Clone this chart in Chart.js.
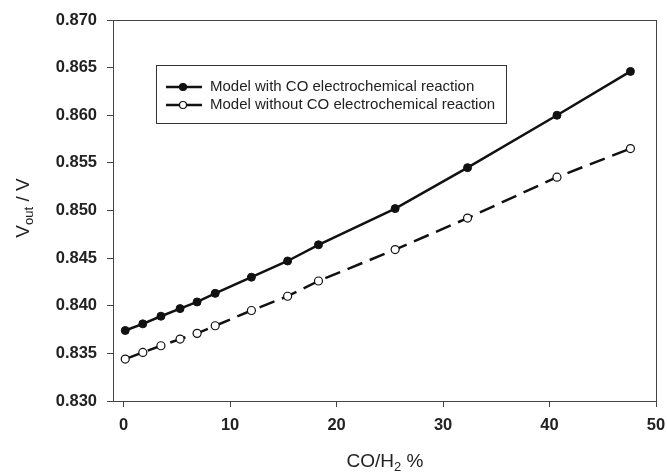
<!DOCTYPE html>
<html>
<head>
<meta charset="utf-8">
<script src="https://cdn.jsdelivr.net/npm/chart.js@4"></script>
<style>
  html, body { margin: 0; padding: 0; background: #fff; }
  #wrap { width: 667px; height: 472px; }
</style>
</head>
<body>
<div id="wrap"><canvas id="chart" width="667" height="472"></canvas></div>
<script>
// values
const coRatio = [0.15, 1.8, 3.5, 5.3, 6.9, 8.6, 12.0, 15.4, 18.3, 25.5, 32.3, 40.7, 47.6];
const withCO = [0.8374, 0.8381, 0.8389, 0.8397, 0.8404, 0.8413, 0.8430, 0.8447, 0.8464, 0.8502, 0.8545, 0.8600, 0.8646];
const withoutCO = [0.8344, 0.8351, 0.8358, 0.8365, 0.8371, 0.8379, 0.8395, 0.8410, 0.8426, 0.8459, 0.8492, 0.8535, 0.8565];
const xTicks = [0, 10, 20, 30, 40, 50];
const yTicks = [0.830, 0.835, 0.840, 0.845, 0.850, 0.855, 0.860, 0.865, 0.870];
const seriesNames = ['Model with CO electrochemical reaction', 'Model without CO electrochemical reaction'];

const axisColor = '#444';
const fam = 'Liberation Sans, Arial, sans-serif';
const tickFont = { family: fam, size: 16.5, weight: 'bold' };

function pts(ys) {
  return coRatio.map((x, i) => ({ x: x, y: ys[i] }));
}

// draws text pieces in a row, some of them as subscripts
function richText(ctx, parts, cx, base) {
  let total = 0;
  parts.forEach(p => { ctx.font = p.size + 'px ' + fam; p.w = ctx.measureText(p.t).width; total += p.w; });
  let x = cx - total / 2;
  parts.forEach(p => {
    ctx.font = p.size + 'px ' + fam;
    ctx.fillText(p.t, x, base + (p.dy || 0));
    x += p.w;
  });
}

// frame, legend box and axis titles with subscripts
const extras = {
  id: 'extras',
  afterDraw(chart) {
    const ctx = chart.ctx;
    const a = chart.chartArea;
    ctx.save();
    ctx.strokeStyle = axisColor;
    ctx.lineWidth = 1;
    ctx.strokeRect(a.left + 0.5, a.top + 0.5, a.right - a.left, a.bottom - a.top);

    // legend
    const lx = 156, ly = 65, lw = 350, lh = 58;
    ctx.strokeStyle = '#333';
    ctx.strokeRect(lx + 0.5, ly + 0.5, lw, lh);
    ctx.font = '15px ' + fam;
    ctx.textBaseline = 'middle';
    const rows = [ly + 22, ly + 40];
    chart.data.datasets.forEach((ds, i) => {
      const y = rows[i];
      ctx.strokeStyle = '#111';
      ctx.lineWidth = 2.5;
      ctx.setLineDash([]);
      ctx.beginPath();
      ctx.moveTo(lx + 10, y);
      ctx.lineTo(lx + 46, y);
      ctx.stroke();
      ctx.beginPath();
      ctx.arc(lx + 27, y, 3.5, 0, Math.PI * 2);
      ctx.fillStyle = ds.pointBackgroundColor;
      ctx.fill();
      ctx.lineWidth = 1.2;
      ctx.stroke();
      ctx.fillStyle = '#222';
      ctx.font = '15px ' + fam;
      ctx.fillText(ds.label, lx + 54, y);
    });

    // x title
    ctx.fillStyle = '#222';
    ctx.textBaseline = 'alphabetic';
    ctx.textAlign = 'left';
    richText(ctx, [{ t: 'CO/H', size: 19 }, { t: '2', size: 13, dy: 4 }, { t: ' %', size: 19 }], 385, 467);

    // y title
    ctx.translate(29, 208);
    ctx.rotate(-Math.PI / 2);
    richText(ctx, [{ t: 'V', size: 19 }, { t: 'out', size: 13, dy: 4 }, { t: ' / V', size: 19 }], 0, 0);
    ctx.restore();
  }
};

new Chart(document.getElementById('chart'), {
  type: 'line',
  data: {
    datasets: [{
      label: seriesNames[0],
      data: pts(withCO),
      borderColor: '#111',
      borderWidth: 2.5,
      pointRadius: 4,
      pointBackgroundColor: '#111',
      pointBorderColor: '#111',
      pointBorderWidth: 1,
      tension: 0
    }, {
      label: seriesNames[1],
      data: pts(withoutCO),
      borderColor: '#111',
      borderWidth: 2.5,
      borderDash: [16, 8],
      pointRadius: 4,
      pointBackgroundColor: '#fff',
      pointBorderColor: '#111',
      pointBorderWidth: 1.2,
      tension: 0
    }]
  },
  options: {
    responsive: false,
    animation: false,
    layout: { padding: { top: 20, right: 11, left: 0, bottom: 0 } },
    plugins: { legend: { display: false }, tooltip: { enabled: false } },
    scales: {
      x: {
        type: 'linear',
        min: -1,
        max: 50,
        afterBuildTicks: s => { s.ticks = xTicks.map(v => ({ value: v })); },
        afterFit: s => { s.height = 71; s.paddingRight = 0; s.paddingLeft = 0; },
        grid: { drawOnChartArea: false, drawTicks: true, tickLength: 6, color: axisColor },
        border: { color: axisColor },
        ticks: { font: tickFont, color: '#222', padding: 9, maxRotation: 0 }
      },
      y: {
        min: 0.830,
        max: 0.870,
        afterBuildTicks: s => { s.ticks = yTicks.map(v => ({ value: v })); },
        afterFit: s => { s.width = 113; s.paddingTop = 0; s.paddingBottom = 0; },
        grid: { drawOnChartArea: false, drawTicks: true, tickLength: 6, color: axisColor },
        border: { color: axisColor },
        ticks: { font: tickFont, color: '#222', padding: 10, callback: v => v.toFixed(3) }
      }
    }
  },
  plugins: [extras]
});
</script>
</body>
</html>
